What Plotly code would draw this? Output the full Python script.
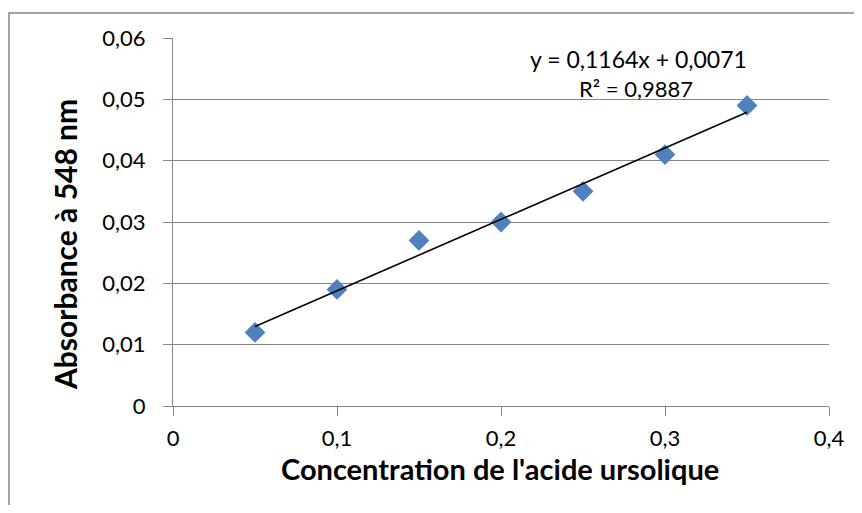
import numpy as np
import plotly.graph_objects as go

concentration = [0.05, 0.10, 0.15, 0.20, 0.25, 0.30, 0.35]
absorbance = [0.012, 0.019, 0.027, 0.030, 0.035, 0.041, 0.049]
equation_text = "y = 0,1164x + 0,0071"
r2_text = "R² = 0,9887"
x_title = "Concentration de l'acide ursolique"
y_title = "Absorbance à 548 nm"

slope, intercept = np.polyfit(concentration, absorbance, 1)
fit_x = [min(concentration), max(concentration)]
fit_y = [slope * v + intercept for v in fit_x]

FONT = "Lato"
GRID = "#868686"

# figure geometry (page body has an 8px margin)
W, H = 846, 497
L, R, T, B = 165, 25, 30, 99
PW, PH = W - L - R, H - T - B


def px_x(x):
    return (x - L) / PW


def px_y(y):
    return 1 - (y - T) / PH


fig = go.Figure()
fig.add_trace(go.Scatter(
    x=concentration, y=absorbance, mode="markers",
    marker=dict(symbol="diamond", size=16, color="#4F81BD",
                line=dict(width=0)),
    showlegend=False, hoverinfo="skip"))
fig.add_trace(go.Scatter(
    x=fit_x, y=fit_y, mode="lines",
    line=dict(color="black", width=1.6),
    showlegend=False, hoverinfo="skip"))

fig.update_layout(
    width=W, height=H,
    margin=dict(l=L, r=R, t=T, b=B, autoexpand=False),
    paper_bgcolor="white", plot_bgcolor="white",
    separators=", ",
    font=dict(family=FONT, size=22, color="black"),
    xaxis=dict(range=[0, 0.4], dtick=0.1, tick0=0, showgrid=False,
               showline=True, linecolor=GRID, linewidth=1.3,
               ticks="outside", ticklen=9, tickcolor=GRID, tickwidth=1.3,
               zeroline=False, ticklabelstandoff=3),
    yaxis=dict(range=[0, 0.06], dtick=0.01, tick0=0, showgrid=True,
               gridcolor=GRID, gridwidth=1.3,
               showline=True, linecolor=GRID, linewidth=1.3,
               ticks="outside", ticklen=9, tickcolor=GRID, tickwidth=1.3,
               zeroline=False, ticklabelstandoff=13),
    shapes=[dict(type="rect", xref="paper", yref="paper",
                 x0=px_x(1), x1=px_x(W + 40), y0=px_y(H + 40), y1=px_y(5),
                 line=dict(color=GRID, width=1.5), layer="below")],
    annotations=[
        dict(text=equation_text, x=px_x(630), y=px_y(51),
             xref="paper", yref="paper", showarrow=False,
             xanchor="center", yanchor="middle", font=dict(size=23)),
        dict(text=r2_text, x=px_x(628), y=px_y(80),
             xref="paper", yref="paper", showarrow=False,
             xanchor="center", yanchor="middle", font=dict(size=22)),
        dict(text="<b>" + x_title + "</b>", x=px_x(492), y=px_y(460),
             xref="paper", yref="paper", showarrow=False,
             xanchor="center", yanchor="middle", font=dict(size=29)),
        dict(text="<b>" + y_title + "</b>", x=px_x(57), y=px_y(237),
             xref="paper", yref="paper", showarrow=False, textangle=-90,
             xanchor="center", yanchor="middle", font=dict(size=30)),
    ],
)

fig.write_html("out.html")
